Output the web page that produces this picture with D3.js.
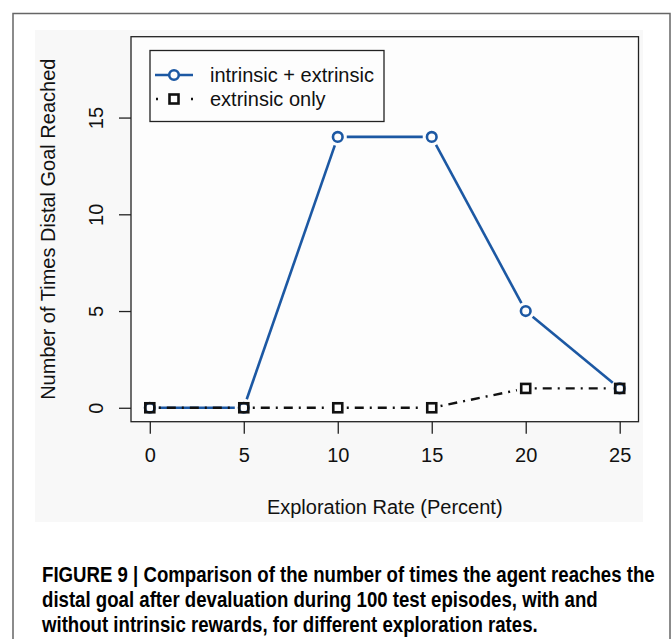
<!DOCTYPE html>
<html>
<head>
<meta charset="utf-8">
<script src="https://cdn.jsdelivr.net/npm/d3@7"></script>
<style>
  body { margin: 0; background: #fff; }
  svg { display: block; }
  text { font-family: "Liberation Sans", Arial, sans-serif; fill: #111; }
  .caption { font-family: "Liberation Sans", Arial, sans-serif; font-weight: bold; font-size: 22px; fill: #000; }
</style>
</head>
<body>
<div id="chart"></div>
<script>
// data
var rates = [0, 5, 10, 15, 20, 25];
var intrinsicExtrinsic = [0, 0, 14, 14, 5, 1];
var extrinsicOnly = [0, 0, 0, 0, 1, 1];
var xTicks = [0, 5, 10, 15, 20, 25];
var yTicks = [0, 5, 10, 15];
var captionLines = [
    "FIGURE 9 | Comparison of the number of times the agent reaches the",
    "distal goal after devaluation during 100 test episodes, with and",
    "without intrinsic rewards, for different exploration rates."
];

var w = 671, h = 639;
var blue = "#1c58a3";
var fs = "20px";

var svg = d3.select("#chart").append("svg")
    .attr("width", w)
    .attr("height", h);

// outer frame + grey figure panel
svg.append("rect")
    .attr("x", 13).attr("y", 13.5)
    .attr("width", 657).attr("height", 640)
    .attr("fill", "#fff")
    .attr("stroke", "#666")
    .attr("stroke-width", 1.5);

svg.append("rect")
    .attr("x", 35).attr("y", 30)
    .attr("width", 608).attr("height", 492)
    .attr("fill", "#f8f8f8");

var x = d3.scaleLinear().domain([-1, 26]).range([131, 638.5]);
var y = d3.scaleLinear().domain([-0.72, 19.18]).range([421.7, 36.7]);

svg.append("rect")
    .attr("x", x(-1)).attr("y", y(19.18))
    .attr("width", x(26) - x(-1)).attr("height", y(-0.72) - y(19.18))
    .attr("fill", "#fdfdfd")
    .attr("stroke", "#222")
    .attr("stroke-width", 1.3);

// axes (R style, detached from box)
var xAxis = d3.axisBottom(x).tickValues(xTicks).tickSize(12).tickPadding(14);
var gx = svg.append("g")
    .attr("transform", "translate(0," + y(-0.72) + ")")
    .call(xAxis);
gx.select(".domain").remove();
gx.selectAll("line").attr("stroke", "#222").attr("stroke-width", 1.3);
gx.selectAll("text").style("font-size", fs).attr("fill", "#111")
    .attr("font-family", "'Liberation Sans', Arial, sans-serif");

var yAxis = d3.axisLeft(y).tickValues(yTicks).tickSize(12).tickFormat(d3.format("d"));
var gy = svg.append("g")
    .attr("transform", "translate(" + x(-1) + ",0)")
    .call(yAxis);
gy.select(".domain").remove();
gy.selectAll("line").attr("stroke", "#222").attr("stroke-width", 1.3);
gy.selectAll("text")
    .attr("x", 0).attr("dy", 0)
    .attr("transform", "translate(-35,0) rotate(-90)")
    .attr("text-anchor", "middle")
    .attr("dominant-baseline", "central")
    .style("font-size", fs).attr("fill", "#111")
    .attr("font-family", "'Liberation Sans', Arial, sans-serif");

svg.append("text")
    .attr("transform", "translate(48," + ((y(-0.72) + y(19.18)) / 2) + ") rotate(-90)")
    .attr("text-anchor", "middle")
    .attr("dominant-baseline", "central")
    .style("font-size", fs)
    .text("Number of Times Distal Goal Reached");

svg.append("text")
    .attr("x", (x(-1) + x(26)) / 2)
    .attr("y", 507)
    .attr("text-anchor", "middle")
    .attr("dominant-baseline", "central")
    .style("font-size", fs)
    .text("Exploration Rate (Percent)");

// R type="b": segments with a gap around each point
function gappedSegments(vals, gap) {
    var segs = [];
    for (var i = 0; i < vals.length - 1; i++) {
        var x1 = x(rates[i]), y1 = y(vals[i]), x2 = x(rates[i + 1]), y2 = y(vals[i + 1]);
        var len = Math.hypot(x2 - x1, y2 - y1);
        var ux = (x2 - x1) / len, uy = (y2 - y1) / len;
        segs.push([x1 + ux * gap, y1 + uy * gap, x2 - ux * gap, y2 - uy * gap]);
    }
    return segs;
}

svg.selectAll(".seg-blue")
    .data(gappedSegments(intrinsicExtrinsic, 9))
    .enter().append("line")
    .attr("class", "seg-blue")
    .attr("x1", function(d) { return d[0]; })
    .attr("y1", function(d) { return d[1]; })
    .attr("x2", function(d) { return d[2]; })
    .attr("y2", function(d) { return d[3]; })
    .attr("stroke", blue)
    .attr("stroke-width", 2.6);

svg.selectAll(".seg-black")
    .data(gappedSegments(extrinsicOnly, 9))
    .enter().append("line")
    .attr("class", "seg-black")
    .attr("x1", function(d) { return d[0]; })
    .attr("y1", function(d) { return d[1]; })
    .attr("x2", function(d) { return d[2]; })
    .attr("y2", function(d) { return d[3]; })
    .attr("stroke", "#111")
    .attr("stroke-width", 2.4)
    .attr("stroke-dasharray", "2,6,9,6");

svg.selectAll(".pt-blue")
    .data(intrinsicExtrinsic)
    .enter().append("circle")
    .attr("class", "pt-blue")
    .attr("cx", function(d, i) { return x(rates[i]); })
    .attr("cy", function(d) { return y(d); })
    .attr("r", 4.8)
    .attr("fill", "none")
    .attr("stroke", blue)
    .attr("stroke-width", 2.6);

svg.selectAll(".pt-black")
    .data(extrinsicOnly)
    .enter().append("rect")
    .attr("class", "pt-black")
    .attr("x", function(d, i) { return x(rates[i]) - 4.5; })
    .attr("y", function(d) { return y(d) - 4.5; })
    .attr("width", 9)
    .attr("height", 9)
    .attr("fill", "none")
    .attr("stroke", "#111")
    .attr("stroke-width", 2.6);

// legend
var legend = svg.append("g");
legend.append("rect")
    .attr("x", 150).attr("y", 50.5)
    .attr("width", 234).attr("height", 71)
    .attr("fill", "#fdfdfd")
    .attr("stroke", "#222")
    .attr("stroke-width", 1.3);

legend.append("line")
    .attr("x1", 155).attr("x2", 193).attr("y1", 75).attr("y2", 75)
    .attr("stroke", blue).attr("stroke-width", 2.6);
legend.append("circle")
    .attr("cx", 174).attr("cy", 75).attr("r", 4.8)
    .attr("fill", "#fdfdfd").attr("stroke", blue).attr("stroke-width", 2.6);
legend.append("line")
    .attr("x1", 156).attr("x2", 193).attr("y1", 99).attr("y2", 99)
    .attr("stroke", "#111").attr("stroke-width", 2.4)
    .attr("stroke-dasharray", "2,33,2");
legend.append("rect")
    .attr("x", 169.5).attr("y", 94.5).attr("width", 9).attr("height", 9)
    .attr("fill", "#fdfdfd").attr("stroke", "#111").attr("stroke-width", 2.6);

legend.selectAll(".leg-label")
    .data(["intrinsic + extrinsic", "extrinsic only"])
    .enter().append("text")
    .attr("class", "leg-label")
    .attr("x", 210)
    .attr("y", function(d, i) { return 75 + i * 24; })
    .attr("dominant-baseline", "central")
    .style("font-size", fs)
    .text(function(d) { return d; });

// caption, squeezed horizontally to mimic the condensed journal face
var cap = svg.append("g");
cap.selectAll(".caption")
    .data(captionLines)
    .enter().append("text")
    .attr("class", "caption")
    .attr("x", 0)
    .attr("y", function(d, i) { return 582 + i * 25; })
    .text(function(d) { return d; });
var natural = cap.select(".caption").node().getComputedTextLength();
cap.attr("transform", "translate(42,0) scale(" + (613 / natural) + ",1)");
</script>
</body>
</html>
